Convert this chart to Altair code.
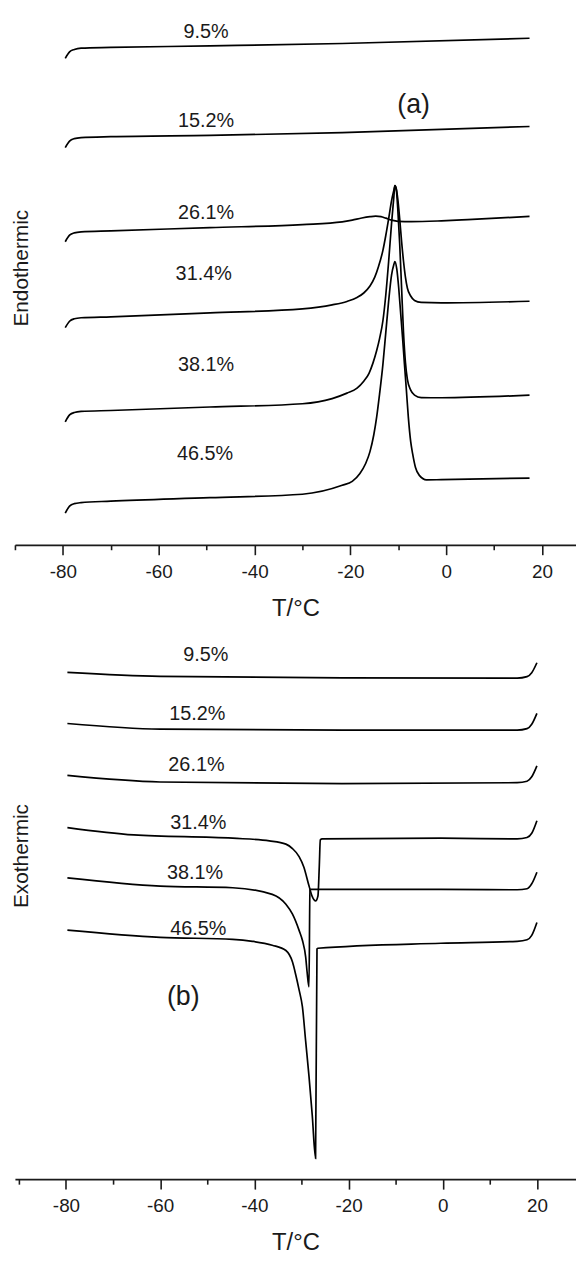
import altair as alt
import pandas as pd

# ---------------- (a) heating scans : T (°C) and offset heat flow (a.u.) ----------------
a_T_95 = [-79.5, -78.6, -77.6, -76.2, -70.0, -49.3, -21.7, 17.4]
a_H_95 = [49.07, 49.73, 49.97, 50.10, 50.17, 50.33, 50.57, 51.10]

a_T_152 = [-79.5, -78.6, -77.6, -76.2, -70.0, -49.3, -21.7, 17.4]
a_H_152 = [40.07, 40.73, 40.97, 41.07, 41.17, 41.30, 41.57, 42.20]

a_T_261 = [-79.5, -78.6, -77.6, -76.2, -70.0, -49.3, -30.0, -21.7, -19.6, -17.6, -15.9,
           -14.7, -13.6, -12.6, -11.4, -10.0, -7.3, -1.0, 4.5, 11.4, 17.4]
a_H_261 = [30.57, 31.23, 31.47, 31.57, 31.67, 32.00, 32.30, 32.57, 32.75, 32.97, 33.10,
           33.15, 33.10, 32.95, 32.75, 32.63, 32.60, 32.68, 32.80, 32.97, 33.13]

a_T_314 = [-79.5, -78.6, -77.6, -76.2, -70.0, -49.3, -30.0, -23.8, -20.7, -18.6, -17.2,
           -15.9, -14.9, -14.1, -13.2, -12.6, -12.0, -11.4, -10.9, -10.7, -10.4, -10.1,
           -9.7, -9.3, -8.9, -8.5, -8.1, -7.4, -6.6, -5.2, -1.0, 17.4]
a_H_314 = [21.90, 22.55, 22.80, 22.90, 23.00, 23.40, 23.80, 24.20, 24.55, 24.95, 25.40,
           26.10, 27.00, 28.10, 29.70, 31.20, 32.90, 34.70, 35.80, 36.23, 35.90, 34.90,
           32.90, 30.60, 28.60, 27.00, 25.90, 25.10, 24.65, 24.45, 24.40, 24.57]

a_T_381 = [-79.5, -78.6, -77.6, -76.2, -70.0, -49.3, -30.0, -23.8, -20.7, -18.6, -17.2,
           -16.1, -15.3, -14.5, -13.9, -13.2, -12.6, -12.0, -11.4, -10.9, -10.7, -10.4,
           -10.1, -9.7, -9.3, -8.9, -8.5, -8.1, -7.4, -6.6, -5.2, -1.0, 17.4]
a_H_381 = [12.40, 13.10, 13.35, 13.45, 13.55, 13.90, 14.23, 14.75, 15.30, 15.80, 16.50,
           17.30, 18.30, 19.60, 20.80, 22.60, 25.20, 28.60, 32.40, 35.20, 36.23, 35.80,
           33.90, 30.40, 25.90, 21.40, 18.40, 16.70, 15.60, 15.10, 14.85, 14.83, 15.10]

a_T_465 = [-79.5, -78.6, -77.6, -76.2, -70.0, -49.3, -30.0, -21.7, -19.6, -18.0, -16.8,
           -15.9, -15.1, -14.5, -13.9, -13.2, -12.6, -12.0, -11.4, -10.9, -10.7, -10.3,
           -9.9, -9.5, -9.1, -8.7, -8.3, -7.9, -7.4, -7.0, -6.4, -5.6, -4.1, -1.0, 17.4]
a_H_465 = [3.20, 3.90, 4.15, 4.25, 4.40, 4.75, 5.10, 6.00, 6.40, 7.20, 8.20,
           9.40, 11.10, 12.90, 15.20, 18.20, 21.40, 24.60, 27.20, 28.30, 28.57, 27.80,
           25.90, 23.40, 20.90, 18.20, 15.60, 12.90, 10.40, 9.20, 7.80, 7.00, 6.55, 6.57, 6.73]

# ---------------- (b) cooling scans ----------------
b_T_95 = [-79.7, -60.0, -21.4, 15.8, 17.9, 18.9, 20.0]
b_H_95 = [51.13, 50.73, 50.57, 50.55, 50.70, 51.10, 52.10]

b_T_152 = [-79.7, -60.0, -21.4, 15.8, 17.9, 18.9, 20.0]
b_H_152 = [45.97, 45.40, 45.30, 45.30, 45.45, 45.90, 47.00]

b_T_261 = [-79.7, -60.0, -21.4, 15.8, 17.9, 18.9, 20.0]
b_H_261 = [40.73, 40.07, 39.90, 40.00, 40.15, 40.60, 41.70]

b_T_314 = [-79.7, -65.6, -44.6, -36.8, -33.3, -31.9, -30.5, -29.5, -28.4, -27.7, -27.0,
           -26.5, -26.2, -26.0, -25.6, -0.4, 15.8, 17.9, 18.9, 20.0]
b_H_314 = [35.47, 34.73, 34.40, 34.13, 33.80, 33.35, 32.55, 31.50, 29.60, 28.50, 28.07,
           28.57, 31.73, 34.23, 34.33, 34.40, 34.33, 34.47, 34.90, 36.17]

b_T_381 = [-79.7, -60.0, -44.6, -36.2, -33.3, -31.9, -30.5, -29.8, -29.1, -28.8, -28.4,
           -28.2, -28.1, -0.4, 15.8, 17.9, 18.9, 20.0]
b_H_381 = [30.40, 29.57, 29.40, 28.73, 27.73, 26.73, 25.10, 24.10, 22.40, 20.90, 19.40,
           29.20, 29.23, 29.23, 29.20, 29.30, 29.80, 30.97]

b_T_465 = [-79.7, -60.0, -44.6, -40.4, -36.2, -33.3, -31.9, -31.2, -30.5, -29.8, -29.1,
           -28.4, -27.7, -27.0, -26.7, -26.5, -0.4, 15.8, 17.9, 18.9, 20.0]
b_H_465 = [25.13, 24.40, 24.20, 24.00, 23.60, 23.07, 21.90, 20.60, 19.10, 17.40, 13.90,
           10.40, 6.40, 2.10, 23.23, 23.30, 23.80, 24.00, 24.15, 24.60, 25.90]

# ---------------- curve labels ----------------
series_names = ["9.5%", "15.2%", "26.1%", "31.4%", "38.1%", "46.5%"]
a_lab_T = [-50.1, -50.1, -50.1, -50.6, -50.1, -50.3]
a_lab_H = [51.7, 42.73, 33.47, 27.3, 18.1, 9.2]
b_lab_T = [-50.3, -52.1, -52.3, -51.9, -52.6, -51.9]
b_lab_H = [52.9, 46.9, 41.8, 35.9, 30.9, 25.23]

panel_tags = ["(a)", "(b)"]
panel_tag_T = [-6.8, -55.1]
panel_tag_H = [44.4, 18.4]

y_titles = ["Endothermic", "Exothermic"]
y_title_T = [-88.5, -89.4]
y_title_H = [27.9, 32.6]

x_ticks = [-90, -80, -70, -60, -50, -40, -30, -20, -10, 0, 10, 20]

FONT = "Liberation Sans, Arial, sans-serif"
INK = "#1a1a1a"


def long_table(pairs):
    rows = []
    for name, (ts, hs) in zip(series_names, pairs):
        for t, h in zip(ts, hs):
            rows.append({"series": name, "T": t, "H": h})
    return pd.DataFrame(rows)


a_df = long_table([(a_T_95, a_H_95), (a_T_152, a_H_152), (a_T_261, a_H_261),
                   (a_T_314, a_H_314), (a_T_381, a_H_381), (a_T_465, a_H_465)])
b_df = long_table([(b_T_95, b_H_95), (b_T_152, b_H_152), (b_T_261, b_H_261),
                   (b_T_314, b_H_314), (b_T_381, b_H_381), (b_T_465, b_H_465)])

a_lab = pd.DataFrame({"T": a_lab_T, "H": a_lab_H, "txt": series_names})
b_lab = pd.DataFrame({"T": b_lab_T, "H": b_lab_H, "txt": series_names})


def x_axis():
    return alt.Axis(
        values=x_ticks,
        labelExpr="datum.value % 20 === 0 ? '' + datum.value : ''",
        tickSize={"condition": {"test": "datum.value % 20 === 0", "value": 10}, "value": 5},
        grid=False,
        domainColor=INK, domainWidth=1.8,
        tickColor=INK, tickWidth=1.6,
        labelFont=FONT, labelFontSize=19, labelColor=INK, labelPadding=8,
        labelFlush=False, labelOverlap=False,
        title="T/°C", titleFont=FONT, titleFontSize=24, titleFontWeight="normal",
        titleColor=INK, titlePadding=15,
    )


def panel(df, lab, xdom, ydom, height, tag_i):
    x = alt.X("T:Q", scale=alt.Scale(domain=xdom, nice=False, zero=False), axis=x_axis())
    y = alt.Y("H:Q", scale=alt.Scale(domain=ydom, nice=False, zero=False), axis=None)
    lines = alt.Chart(df).mark_line(
        interpolate="monotone", color="black", strokeWidth=1.7
    ).encode(x=x, y=y, detail="series:N")
    labels = alt.Chart(lab).mark_text(
        font=FONT, fontSize=20, color=INK, align="center", baseline="middle"
    ).encode(x=x, y=y, text="txt:N")
    tag = alt.Chart(pd.DataFrame({"T": [panel_tag_T[tag_i]], "H": [panel_tag_H[tag_i]],
                                  "txt": [panel_tags[tag_i]]})).mark_text(
        font=FONT, fontSize=27, color=INK, align="center", baseline="middle"
    ).encode(x=x, y=y, text="txt:N")
    ytitle = alt.Chart(pd.DataFrame({"T": [y_title_T[tag_i]], "H": [y_title_H[tag_i]],
                                     "txt": [y_titles[tag_i]]})).mark_text(
        font=FONT, fontSize=21, color=INK, align="center", baseline="middle", angle=270
    ).encode(x=x, y=y, text="txt:N")
    return alt.layer(lines, labels, tag, ytitle).properties(width=566, height=height)


top = panel(a_df, a_lab, [-90, 27.1], [0, 53.6], 536, 0)
bottom = panel(b_df, b_lab, [-90.84, 28.3], [0, 55.4], 554, 1)

chart = alt.vconcat(top, bottom, spacing=10).properties(
    padding={"left": 2, "top": 0, "right": 0, "bottom": 0}
).configure_view(stroke=None)

chart.save("out.html", embed_options={"renderer": "svg", "actions": False})
